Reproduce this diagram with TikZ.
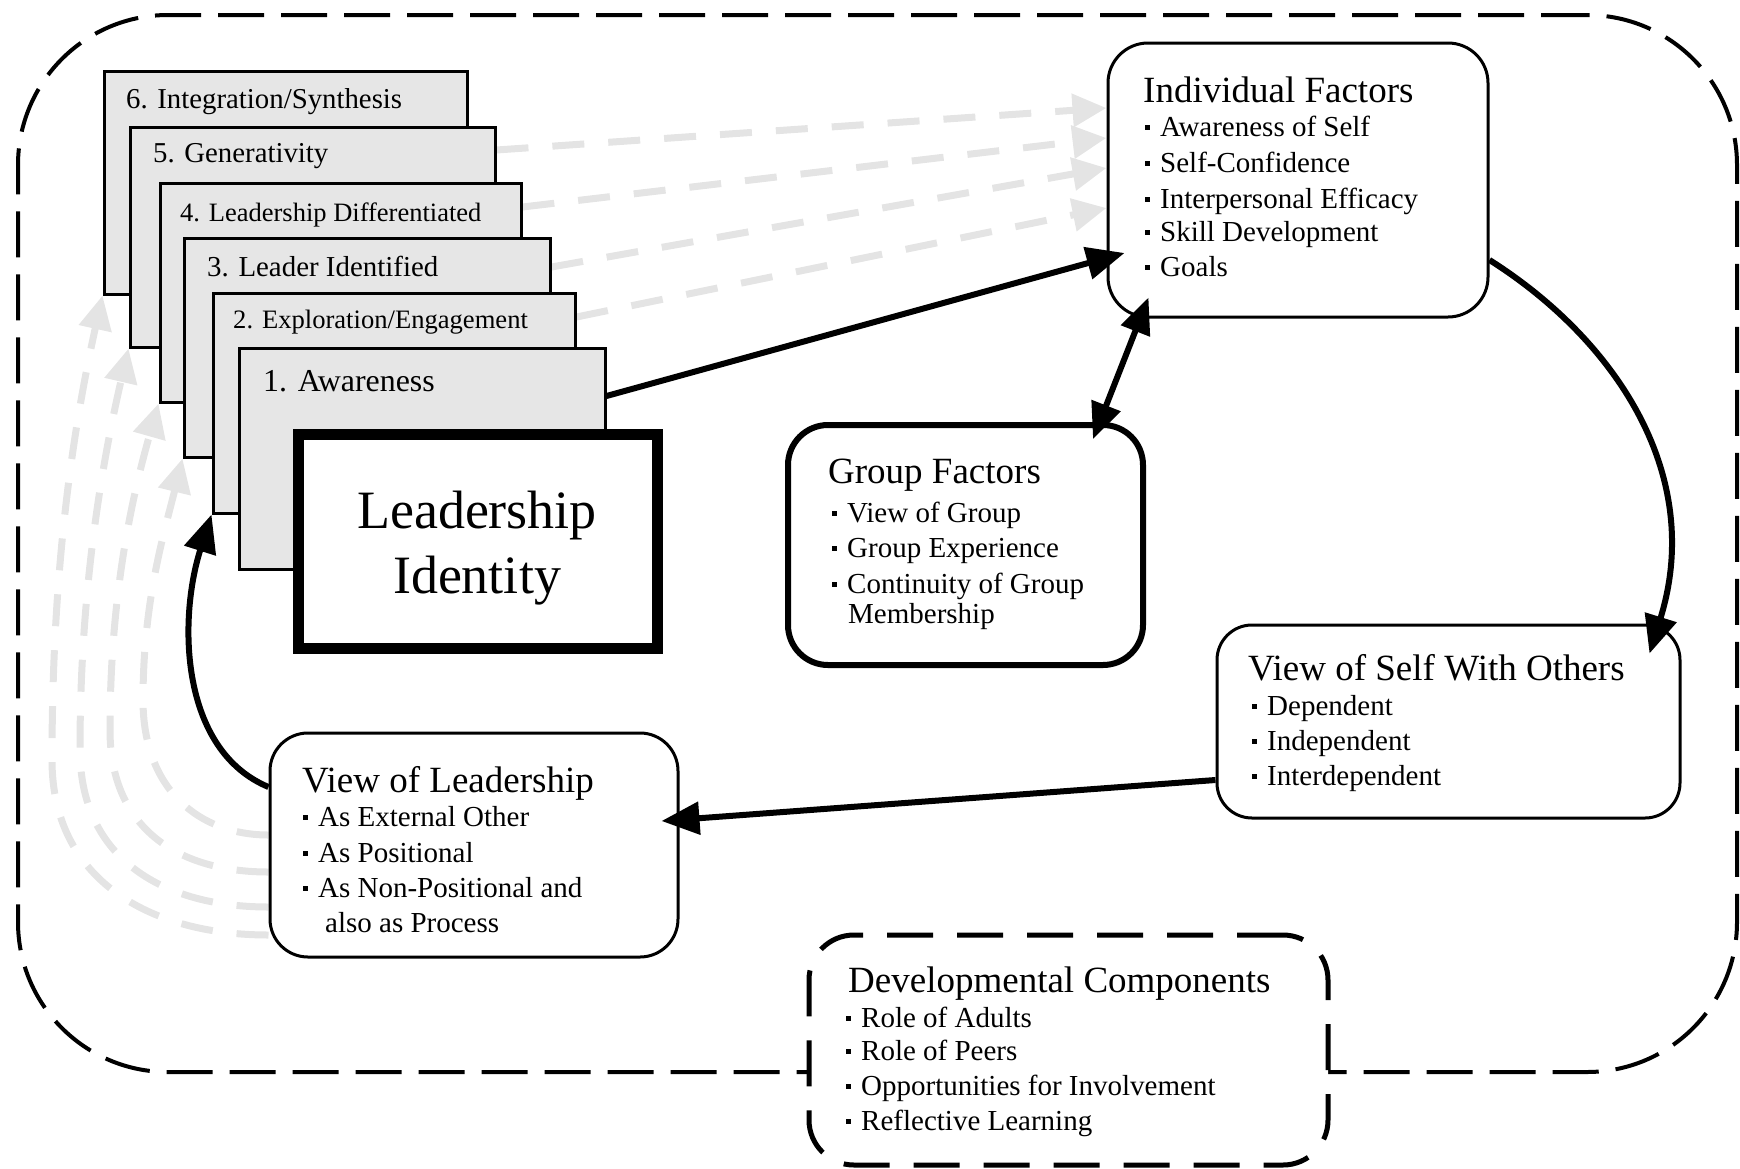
\documentclass[tikz,border=0pt]{standalone}
\usepackage{fontspec}
\setmainfont{Liberation Serif}
\usetikzlibrary{arrows.meta,backgrounds}
\definecolor{stagegray}{HTML}{E6E6E6}
\definecolor{lightg}{HTML}{E4E4E4}
\newcommand{\mybul}{\makebox[15pt][l]{\rule[0.22em]{4.5pt}{4.5pt}}}
\tikzset{
  stage/.style={draw=black, line width=3pt, fill=stagegray, inner sep=0pt},
  slabel/.style={anchor=base west, inner sep=0pt},
  rbox/.style={draw=black, line width=3pt, rounded corners=40pt, fill=white, inner sep=0pt},
  hd/.style={anchor=base west, inner sep=0pt, font=\fontsize{37}{44}\selectfont},
  bl/.style={anchor=base west, inner sep=0pt, font=\fontsize{29}{35}\selectfont},
  blk/.style={line width=6pt, -{Triangle[length=38pt,width=32pt]}},
  gry/.style={draw=lightg, line width=7pt, dash pattern=on 32pt off 24pt, -{Triangle[length=34pt,width=32pt]}},
}
\begin{document}
\begin{tikzpicture}[x=1pt,y=-1pt]
\useasboundingbox (0,0) rectangle (1740,1168);
% outer dashed frame
\node[draw=black, line width=4pt, dash pattern=on 46pt off 17pt, rounded corners=150pt, minimum width=1719pt, minimum height=1057pt, inner sep=0pt] (outer) at (877.5,543.5) {};

% stage boxes
\node[stage, minimum width=363pt, minimum height=223pt] (b6) at (285.5,182.5) {};
\node[slabel, font=\fontsize{28.8}{34}\selectfont] (s6) at (126,108) {6. Integration/Synthesis};
\node[stage, minimum width=365pt, minimum height=220pt] (b5) at (312.5,237) {};
\node[slabel, font=\fontsize{28.8}{34}\selectfont] (s5) at (153,162) {5. Generativity};
\node[stage, minimum width=361pt, minimum height=219pt] (b4) at (340.5,292.5) {};
\node[slabel, font=\fontsize{26.5}{32}\selectfont] (s4) at (180,221) {4. Leadership Differentiated};
\node[stage, minimum width=366pt, minimum height=219pt] (b3) at (367,347.5) {};
\node[slabel, font=\fontsize{28.9}{34}\selectfont] (s3) at (207,276) {3. Leader Identified};
\node[stage, minimum width=362pt, minimum height=220pt] (b2) at (394,403) {};
\node[slabel, font=\fontsize{26.6}{32}\selectfont] (s2) at (233,328) {2. Exploration/Engagement};
\node[stage, minimum width=366pt, minimum height=221pt] (b1) at (422,458.5) {};
\node[slabel, font=\fontsize{31.9}{38}\selectfont] (s1) at (263,391) {1. Awareness};

% leadership identity
\node[draw=black, line width=11pt, fill=white, inner sep=0pt, minimum width=359pt, minimum height=214pt] (li) at (477.5,541) {};
\node[anchor=base, inner sep=0pt, font=\fontsize{54}{65}\selectfont] (li1) at (477,528) {Leadership};
\node[anchor=base, inner sep=0pt, font=\fontsize{54}{65}\selectfont] (li2) at (477,593) {Identity};

% individual factors
\node[rbox, minimum width=380pt, minimum height=274pt] (if) at (1298,180) {};
\node[hd] (ifh) at (1143,102) {Individual Factors};
\node[bl] (if1) at (1145,136) {\mybul Awareness of Self};
\node[bl] (if2) at (1145,172) {\mybul Self-Confidence};
\node[bl] (if3) at (1145,208) {\mybul Interpersonal Efficacy};
\node[bl] (if4) at (1145,241) {\mybul Skill Development};
\node[bl] (if5) at (1145,276) {\mybul Goals};

% group factors
\node[rbox, line width=6pt, minimum width=355pt, minimum height=240pt] (gf) at (965.5,545) {};
\node[hd] (gfh) at (828,483) {Group Factors};
\node[bl] (gf1) at (832,522) {\mybul View of Group};
\node[bl] (gf2) at (832,557) {\mybul Group Experience};
\node[bl] (gf3) at (832,593) {\mybul Continuity of Group};
\node[bl] (gf4) at (848,623) {Membership};

% view of self with others
\node[rbox, rounded corners=35pt, minimum width=463pt, minimum height=193pt] (vso) at (1448.5,721.5) {};
\node[hd] (vsoh) at (1248,680) {View of Self With Others};
\node[bl] (vso1) at (1252,715) {\mybul Dependent};
\node[bl] (vso2) at (1252,750) {\mybul Independent};
\node[bl] (vso3) at (1252,785) {\mybul Interdependent};

% view of leadership
\node[rbox, rounded corners=38pt, minimum width=408pt, minimum height=224pt] (vol) at (474,845) {};
\node[hd] (volh) at (302,792) {View of Leadership};
\node[bl] (vol1) at (303,826) {\mybul As External Other};
\node[bl] (vol2) at (303,862) {\mybul As Positional};
\node[bl] (vol3) at (303,897) {\mybul As Non-Positional and};
\node[bl] (vol4) at (325,932) {also as Process};

% developmental components
\node[rbox, line width=5pt, dash pattern=on 46pt off 24pt, rounded corners=45pt, minimum width=519pt, minimum height=230pt] (dc) at (1068.5,1050) {};
\node[hd] (dch) at (848,992) {Developmental Components};
\node[bl] (dc1) at (846,1027) {\mybul Role of Adults};
\node[bl] (dc2) at (846,1060) {\mybul Role of Peers};
\node[bl] (dc3) at (846,1095) {\mybul Opportunities for Involvement};
\node[bl] (dc4) at (846,1130) {\mybul Reflective Learning};

% light grey dashed arrows (behind)
\begin{pgfonlayer}{background}
\draw[gry] ([yshift=87pt]b5.east) -- ([yshift=72pt]if.west);
\draw[gry] ([yshift=85.5pt]b4.east) -- ([yshift=42pt]if.west);
\draw[gry] ([yshift=80.5pt]b3.east) -- ([yshift=12pt]if.west);
\draw[gry] ([yshift=86pt]b2.east) -- ([yshift=-28pt]if.west);
\draw[gry] ([yshift=10pt]vol.west) .. controls (200,835) and (143,790) .. (143,700) .. controls (143,600) and (165,530) .. (b3.south west);
\draw[gry] ([yshift=-27pt]vol.west) .. controls (180,872) and (110,830) .. (110,730) .. controls (110,590) and (134,490) .. (b4.south west);
\draw[gry] ([yshift=-62pt]vol.west) .. controls (165,907) and (80,860) .. (80,750) .. controls (80,580) and (105,450) .. (b5.south west);
\draw[gry] ([yshift=-90pt]vol.west) .. controls (150,935) and (52,880) .. (52,760) .. controls (52,560) and (75,420) .. (b6.south west);
\end{pgfonlayer}

% black arrows
\draw[blk] ([yshift=62.5pt]b1.east) -- ([xshift=18pt,yshift=-73pt]if.west);
\draw[line width=6pt, {Triangle[length=36pt,width=30pt]}-{Triangle[length=36pt,width=30pt]}] ([xshift=42pt,yshift=21pt]if.south west) -- ([xshift=-53pt,yshift=-17pt]gf.north east);
\draw[blk] ([yshift=-80pt]if.east) .. controls (1616,340) and (1705,475) .. ([xshift=-32pt,yshift=-30pt]vso.north east);
\draw[blk] ([yshift=-58.5pt]vso.west) -- ([xshift=-18pt,yshift=24pt]vol.east);
\draw[blk] ([yshift=58pt]vol.west) .. controls (180,750) and (178,620) .. (b2.south west);
\end{tikzpicture}
\end{document}
